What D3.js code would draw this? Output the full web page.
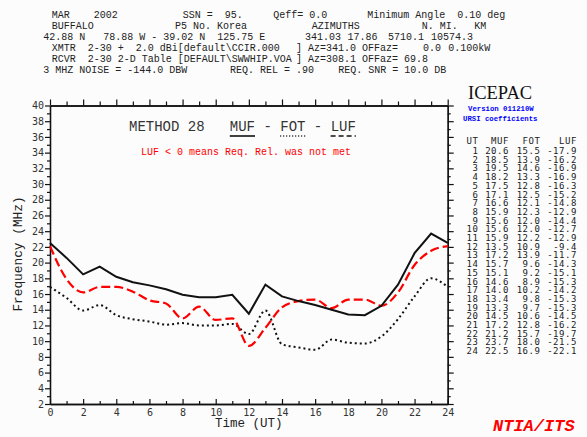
<!DOCTYPE html>
<html>
<head>
<meta charset="utf-8">
<script src="https://cdn.jsdelivr.net/npm/d3@7"></script>
<style>
  body { margin: 0; background: #fcfcfc; }
  svg text { white-space: pre; }
</style>
</head>
<body>
<div id="chart"></div>
<script>
// ICEPAC table values (UT 1..24)
const hours = [1, 2, 3, 4, 5, 6, 7, 8, 9, 10, 11, 12, 13, 14, 15, 16, 17, 18, 19, 20, 21, 22, 23, 24];
const muf = [20.6, 18.5, 19.5, 18.2, 17.5, 17.1, 16.6, 15.9, 15.6, 15.6, 15.9, 13.5, 17.2, 15.7, 15.1, 14.6, 14.0, 13.4, 13.3, 14.5, 17.2, 21.2, 23.7, 22.5];
const fot = [15.5, 13.9, 14.6, 13.3, 12.8, 12.5, 12.1, 12.3, 12.0, 12.0, 12.2, 10.9, 13.9, 9.6, 9.2, 8.9, 10.2, 9.8, 9.7, 10.6, 12.8, 15.7, 18.0, 16.9];
const luf = [-17.9, -16.2, -16.9, -16.9, -16.3, -15.2, -14.8, -12.9, -14.4, -12.7, -12.9, -9.4, -11.7, -14.3, -15.1, -15.3, -14.2, -15.3, -15.3, -14.5, -16.2, -19.7, -21.5, -22.1];

const xTicks = [0, 2, 4, 6, 8, 10, 12, 14, 16, 18, 20, 22, 24];
const yTicks = [2, 4, 6, 8, 10, 12, 14, 16, 18, 20, 22, 24, 26, 28, 30, 32, 34, 36, 38, 40];

const headerLines = [
    [[51.7, "MAR    2002"], [182.7, "SSN =  95."], [273.3, "Qeff= 0.0"], [367.3, "Minimum Angle  0.10 deg"]],
    [[51.7, "BUFFALO"], [175, "P5 No. Korea"], [311.7, "AZIMUTHS"], [421.7, "N. MI."], [474.3, "KM"]],
    [[43.3, "42.88 N   78.88 W - 39.02 N  125.75 E"], [305, "341.03"], [347.5, "17.86"], [388, "5710.1"], [431, "10574.3"]],
    [[51.7, "XMTR  2-30 +  2.0 dBi[default\\CCIR.000"], [296, "] Az=341.0 OFFaz="], [423, "0.0"], [448.3, "0.100kW"]],
    [[51.7, "RCVR  2-30 2-D Table [DEFAULT\\SWWHIP.VOA"], [296, "] Az=308.1 OFFaz= 69.8"]],
    [[43.3, "3 MHZ NOISE = -144.0 DBW"], [230, "REQ. REL = .90"], [338.3, "REQ. SNR = 10.0 DB"]]
];

const W = 587, H = 437;
const plot = { left: 50, right: 447.7, top: 105.5, bottom: 404 };
const mono = "'Liberation Mono', 'Courier New', monospace";
const sansMono = "'DejaVu Sans Mono', monospace";

const svg = d3.select("#chart")
    .append("svg")
    .attr("width", W)
    .attr("height", H)
    .style("background-color", "#fcfcfc");

// header block
headerLines.forEach((line, i) => {
    line.forEach(([x, t]) => {
        svg.append("text")
            .attr("x", x)
            .attr("y", 18.3 + i * 10.9)
            .text(t)
            .style("font-family", mono)
            .style("font-size", "10px")
            .style("fill", "#222");
    });
});

const xScale = d3.scaleLinear().domain([0, 24]).range([plot.left, plot.right]);
const yScale = d3.scaleLinear().domain([2, 40]).range([plot.bottom, plot.top]);

const allHours = d3.range(0, 25);
const allFreq = d3.range(2, 41);

function styleAxis(g) {
    g.selectAll("path").attr("stroke", "#111").attr("stroke-width", 1.3);
    g.selectAll("line").attr("stroke", "#111").attr("stroke-width", 1.2);
    g.selectAll("text")
        .style("font-family", sansMono)
        .style("font-size", "10px")
        .style("fill", "#333");
}

// minor ticks first, then major ticks with labels
svg.append("g")
    .attr("transform", `translate(${plot.left},0)`)
    .call(d3.axisLeft(yScale).tickValues(allFreq.filter(d => d % 2)).tickSize(3).tickSizeOuter(0).tickFormat(""))
    .call(styleAxis);
svg.append("g")
    .attr("class", "y-axis")
    .attr("transform", `translate(${plot.left},0)`)
    .call(d3.axisLeft(yScale).tickValues(yTicks).tickSize(5).tickSizeOuter(0).tickPadding(1))
    .call(styleAxis);

svg.append("g")
    .attr("transform", `translate(${plot.right},0)`)
    .call(d3.axisRight(yScale).tickValues(allFreq.filter(d => d % 2)).tickSize(3).tickSizeOuter(0).tickFormat(""))
    .call(styleAxis);
svg.append("g")
    .attr("transform", `translate(${plot.right},0)`)
    .call(d3.axisRight(yScale).tickValues(yTicks).tickSize(6).tickSizeOuter(0).tickFormat(""))
    .call(styleAxis);

svg.append("g")
    .attr("transform", `translate(0,${plot.top})`)
    .call(d3.axisTop(xScale).tickValues(allHours.filter(d => d % 2)).tickSize(4).tickSizeOuter(0).tickFormat(""))
    .call(styleAxis);
svg.append("g")
    .attr("transform", `translate(0,${plot.top})`)
    .call(d3.axisTop(xScale).tickValues(xTicks).tickSize(6).tickSizeOuter(0).tickFormat(""))
    .call(styleAxis);

svg.append("g")
    .attr("transform", `translate(0,${plot.bottom})`)
    .call(d3.axisBottom(xScale).tickValues(allHours.filter(d => d % 2)).tickSize(-3).tickSizeOuter(0).tickFormat(""))
    .call(styleAxis);
svg.append("g")
    .attr("class", "x-axis")
    .attr("transform", `translate(0,${plot.bottom})`)
    .call(d3.axisBottom(xScale).tickValues(xTicks).tickSize(-5).tickSizeOuter(0).tickPadding(5))
    .call(styleAxis);

// axis titles
svg.append("text")
    .attr("text-anchor", "middle")
    .attr("x", (plot.left + plot.right) / 2)
    .attr("y", 427)
    .text("Time (UT)")
    .style("font-family", mono)
    .style("font-size", "12.5px")
    .style("fill", "#222");

svg.append("text")
    .attr("text-anchor", "middle")
    .attr("transform", "rotate(-90)")
    .attr("x", -254)
    .attr("y", 21.5)
    .text("Frequency (MHz)")
    .style("font-family", mono)
    .style("font-size", "12.8px")
    .style("fill", "#222");

// in-plot legend / title
const titleX = 129, titleY = 131, cw = 8.4;
svg.append("text")
    .attr("x", titleX)
    .attr("y", titleY)
    .text("METHOD 28   MUF - FOT - LUF")
    .style("font-family", mono)
    .style("font-size", "14px")
    .style("fill", "#333");

const underlines = [
    { col: 12, dash: null },
    { col: 18, dash: "1,2" },
    { col: 24, dash: "5,3" }
];
underlines.forEach(u => {
    svg.append("line")
        .attr("x1", titleX + u.col * cw)
        .attr("x2", titleX + (u.col + 3) * cw)
        .attr("y1", 136)
        .attr("y2", 136)
        .attr("stroke", "#111")
        .attr("stroke-width", 1.6)
        .attr("stroke-dasharray", u.dash);
});

svg.append("text")
    .attr("x", 141)
    .attr("y", 155)
    .text("LUF < 0 means Req. Rel. was not met")
    .style("font-family", mono)
    .style("font-size", "10px")
    .style("fill", "#ff0000");

// series: hour 0 repeats UT 24
function series(arr, f) {
    const pts = [{ h: 0, v: f(arr[arr.length - 1]) }];
    hours.forEach((h, i) => pts.push({ h: h, v: f(arr[i]) }));
    return pts;
}

const lineLinear = d3.line().x(d => xScale(d.h)).y(d => yScale(d.v));
const lineSmooth = d3.line().x(d => xScale(d.h)).y(d => yScale(d.v)).curve(d3.curveMonotoneX);

svg.append("path")
    .datum(series(fot, d => d))
    .attr("d", lineSmooth)
    .attr("fill", "none")
    .attr("stroke", "#111")
    .attr("stroke-width", 2)
    .attr("stroke-dasharray", "2,3");

svg.append("path")
    .datum(series(luf, d => Math.abs(d)))
    .attr("d", lineSmooth)
    .attr("fill", "none")
    .attr("stroke", "#ff0000")
    .attr("stroke-width", 2.2)
    .attr("stroke-dasharray", "9,4");

svg.append("path")
    .datum(series(muf, d => d))
    .attr("d", lineLinear)
    .attr("fill", "none")
    .attr("stroke", "#111")
    .attr("stroke-width", 2);

// right-hand side: ICEPAC label and table
svg.append("text")
    .attr("x", 468)
    .attr("y", 99)
    .text("ICEPAC")
    .style("font-family", "'Liberation Serif', 'Times New Roman', serif")
    .style("font-size", "18.5px")
    .style("fill", "#111");

svg.append("text")
    .attr("x", 468)
    .attr("y", 110.7)
    .text("Version 011210W")
    .style("font-family", mono)
    .style("font-size", "7.3px")
    .style("font-weight", "bold")
    .style("fill", "#0000ff");

svg.append("text")
    .attr("x", 463)
    .attr("y", 121)
    .text("URSI coefficients")
    .style("font-family", mono)
    .style("font-size", "7.3px")
    .style("font-weight", "bold")
    .style("fill", "#0000ff");

const colX = [478.5, 509, 540.5, 577];
const table = svg.append("g")
    .style("font-family", sansMono)
    .style("font-size", "9px")
    .style("letter-spacing", "0.55px")
    .style("fill", "#222")
    .attr("text-anchor", "end");

["UT", "MUF", "FOT", "LUF"].forEach((h, j) => {
    table.append("text").attr("x", colX[j]).attr("y", 144).text(h);
});

hours.forEach((h, i) => {
    const row = [String(h), muf[i].toFixed(1), fot[i].toFixed(1), luf[i].toFixed(1)];
    row.forEach((t, j) => {
        table.append("text")
            .attr("x", colX[j])
            .attr("y", 154 + i * 8.7)
            .text(t);
    });
});

svg.append("text")
    .attr("x", 493)
    .attr("y", 431)
    .text("NTIA/ITS")
    .style("font-family", mono)
    .style("font-size", "17px")
    .style("font-weight", "bold")
    .style("font-style", "italic")
    .style("fill", "#ff0000");
</script>
</body>
</html>
